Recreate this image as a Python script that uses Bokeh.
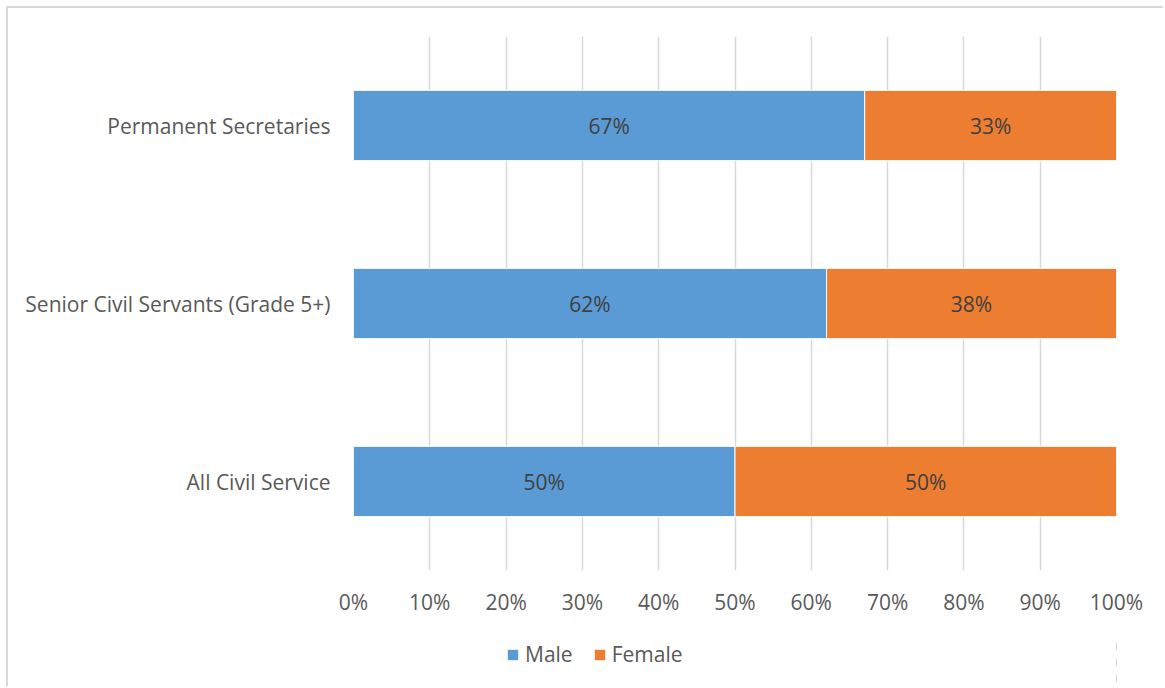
from bokeh.plotting import figure
from bokeh.layouts import column
from bokeh.models import ColumnDataSource, Legend, LegendItem, FactorRange, Range1d, NumeralTickFormatter, FixedTicker
from bokeh.embed import file_html
from bokeh.resources import INLINE
from bokeh.core.properties import value

categories = ["All Civil Service", "Senior Civil Servants (Grade 5+)", "Permanent Secretaries"]
male = [0.50, 0.62, 0.67]
female = [0.50, 0.38, 0.33]
series = ["Male", "Female"]
colors = ["#5B9BD5", "#ED7D31"]
ticks = [0, 0.1, 0.2, 0.3, 0.4, 0.5, 0.6, 0.7, 0.8, 0.9, 1.0]

FONT = "Open Sans"
FS = "21px"

src = ColumnDataSource(dict(cat=categories, Male=male, Female=female))

p = figure(width=1155, height=630, y_range=FactorRange(*categories, range_padding=0),
           x_range=Range1d(0, 1), output_backend="svg", toolbar_location=None,
           min_border_left=345, min_border_right=47, min_border_top=28, min_border_bottom=68)
p.outline_line_color = None

r = p.hbar_stack(series, y="cat", height=0.395, source=src, color=colors,
                 line_color="white", line_width=1)

# data labels
mx = [m / 2 for m in male]
fx = [m + f / 2 for m, f in zip(male, female)]
lab_src = ColumnDataSource(dict(
    x=mx + fx, y=categories + categories,
    t=["%d%%" % round(v * 100) for v in male] + ["%d%%" % round(v * 100) for v in female]))
p.text(x="x", y="y", text="t", source=lab_src, text_align="center", text_baseline="middle",
       text_font=value(FONT), text_font_size=FS, text_color="#404040")

p.xaxis.ticker = FixedTicker(ticks=ticks)
p.xaxis.formatter = NumeralTickFormatter(format="0%")
p.xaxis.axis_line_color = None
p.xaxis.major_tick_line_color = None
p.xaxis.minor_tick_line_color = None
p.xaxis.major_label_text_font = FONT
p.xaxis.major_label_text_font_size = FS
p.xaxis.major_label_text_color = "#595959"
p.xaxis.major_label_standoff = 11

p.yaxis.axis_line_color = None
p.yaxis.major_tick_line_color = None
p.yaxis.major_label_text_font = FONT
p.yaxis.major_label_text_font_size = FS
p.yaxis.major_label_text_color = "#595959"
p.yaxis.major_label_standoff = 17

p.xgrid.grid_line_color = "#d9d9d9"
p.xgrid.grid_line_width = 1.5
p.ygrid.grid_line_color = None

# legend strip: same series drawn off-range (no outline) so only the legend shows
p2 = figure(width=1155, height=48, y_range=FactorRange(*categories), x_range=Range1d(-300, -299),
            output_backend="svg", toolbar_location=None,
            min_border_left=345, min_border_right=47, min_border_top=0, min_border_bottom=0)
p2.axis.visible = False
p2.grid.grid_line_color = None
p2.outline_line_color = None
r2 = p2.hbar_stack(series, y="cat", height=0.395, source=src, fill_color=colors,
                   line_color=None)

legend = Legend(items=[LegendItem(label=s, renderers=[rr]) for s, rr in zip(series, r2)],
                orientation="horizontal", location=(153, 18))
legend.label_text_font = FONT
legend.label_text_font_size = FS
legend.label_text_color = "#595959"
legend.label_height = 20
legend.glyph_width = 13
legend.glyph_height = 13
legend.spacing = 20
legend.label_standoff = 6
legend.border_line_color = None
legend.background_fill_alpha = 0
legend.padding = 0
legend.margin = 0
p2.add_layout(legend, "center")

layout = column(p, p2, spacing=0,
                styles={"border-left": "2px solid #d9d9d9", "border-top": "2px solid #d9d9d9",
                        "margin-left": "6px", "margin-top": "6px"})

open("out.html", "w").write(file_html(layout, INLINE))
